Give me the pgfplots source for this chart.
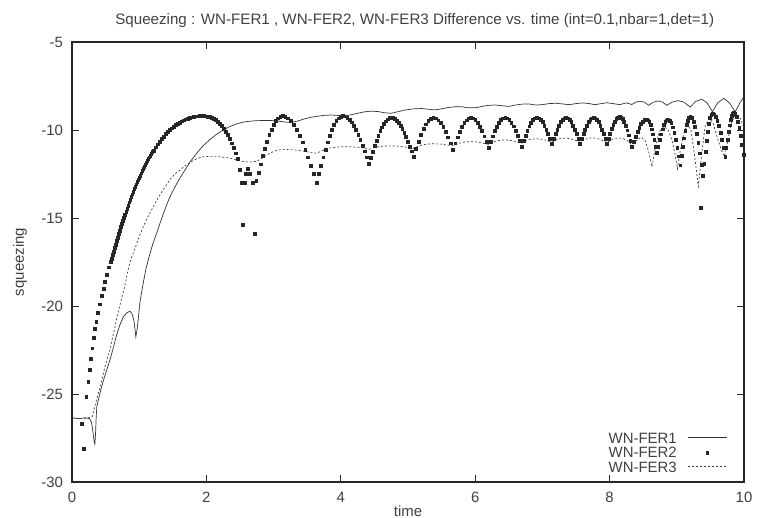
\documentclass[border=0pt]{standalone}
\usepackage{fontspec}
\setmainfont{Liberation Sans}
\usepackage{pgfplots}
\pgfplotsset{compat=1.18}
\pgfplotsset{
  linelegend/.style={legend image code/.code={\path (0bp,0bp); \draw[##1] (10bp,0bp) -- (49bp,0bp);}},
  marklegend/.style={legend image code/.code={\path (0bp,0bp) (49bp,0bp); \draw[##1] plot coordinates {(29.5bp,0bp)};}},
}
\begin{document}
\begin{tikzpicture}
\begin{axis}[
  at={(0,0)}, anchor=south west,
  width=672bp, height=440bp, scale only axis,
  xmin=0, xmax=10, ymin=-30, ymax=-5,
  xtick={0,2,4,6,8,10}, ytick={-30,-25,-20,-15,-10,-5},
  tick align=inside, major tick length=7bp,
  axis line style={line width=1.2bp, black!85},
  tick style={line width=0.8bp, black!85},
  /pgf/number format/assume math mode=true,
  ticklabel style={font=\fontsize{15}{17}\selectfont, text=black!75},
  xticklabel style={yshift=-7bp},
  yticklabel style={xshift=-5.5bp},
  every axis title shift=0pt,
  title={Squeezing : WN-FER1 , WN-FER2, WN-FER3 Difference vs. time (int=0.1,nbar=1,det=1)},
  title style={at={(axis description cs:0.51,1.048)}, anchor=center, font=\fontsize{15.2}{17}\selectfont, text=black!75},
  xlabel={time}, ylabel={squeezing},
  xlabel style={at={(axis description cs:0.5,-0.066)}, anchor=center, font=\fontsize{15}{17}\selectfont, text=black!75},
  ylabel style={at={(axis description cs:-0.0774,0.5)}, anchor=center, font=\fontsize{15}{17}\selectfont, text=black!75},
  legend style={at={(axis description cs:0.975,0.021)}, anchor=south east, draw=none, fill=none,
    font=\fontsize{15}{15.5}\selectfont, text=black!75, inner sep=0pt, row sep=3bp,
    nodes={inner sep=0.5bp, text height=10.5bp, text depth=0bp}},
  legend cell align=right, legend plot pos=right,
  clip=true,
]
\addplot[line width=0.7bp, black!80, linelegend] coordinates {
(0.00,-26.35) (0.10,-26.4) (0.20,-26.35) (0.26,-26.4) (0.29,-26.6) (0.31,-27.1) (0.33,-27.7) (0.34,-27.85)
(0.35,-27.3) (0.36,-26.3) (0.37,-25.7) (0.42,-24.9) (0.47,-24.2) (0.52,-23.6) (0.57,-23.0) (0.62,-22.3)
(0.66,-21.7) (0.71,-21.1) (0.76,-20.65) (0.81,-20.4) (0.86,-20.3) (0.89,-20.4) (0.92,-20.8) (0.94,-21.4)
(0.95,-21.75) (0.97,-21.3) (0.99,-20.6) (1.01,-19.8) (1.06,-18.7) (1.10,-17.9) (1.14,-17.3) (1.20,-16.5)
(1.26,-15.85) (1.36,-14.75) (1.44,-13.95) (1.51,-13.4) (1.58,-12.9) (1.66,-12.4) (1.76,-11.8) (1.86,-11.3)
(1.95,-10.9) (2.05,-10.55) (2.15,-10.25) (2.25,-10.0) (2.35,-9.8) (2.45,-9.65) (2.55,-9.55) (2.65,-9.5)
(2.75,-9.47) (2.85,-9.46) (2.95,-9.46) (3.05,-9.48) (3.15,-9.54) (3.25,-9.57) (3.35,-9.5) (3.45,-9.38)
(3.55,-9.28) (3.65,-9.22) (3.75,-9.17) (3.85,-9.15) (3.95,-9.17) (4.05,-9.2) (4.15,-9.14) (4.25,-9.05)
(4.35,-8.97) (4.45,-8.93) (4.55,-8.95) (4.65,-9.02) (4.75,-9.05) (4.85,-8.96) (4.95,-8.87) (5.08,-8.8)
(5.2,-8.78) (5.3,-8.82) (5.4,-8.86) (5.5,-8.8) (5.6,-8.72) (5.7,-8.68) (5.8,-8.68) (5.9,-8.74)
(6.0,-8.74) (6.1,-8.66) (6.2,-8.6) (6.3,-8.58) (6.4,-8.62) (6.5,-8.66) (6.6,-8.58) (6.7,-8.53)
(6.8,-8.52) (6.9,-8.58) (7.0,-8.56) (7.1,-8.5) (7.2,-8.48) (7.3,-8.52) (7.4,-8.56) (7.5,-8.5)
(7.6,-8.46) (7.7,-8.5) (7.78,-8.56) (7.88,-8.5) (7.96,-8.45) (8.05,-8.5) (8.15,-8.56) (8.25,-8.46)
(8.33,-8.55) (8.39,-8.42) (8.45,-8.36) (8.52,-8.42) (8.58,-8.6) (8.65,-8.42) (8.72,-8.35) (8.79,-8.42)
(8.85,-8.6) (8.93,-8.42) (9.02,-8.33) (9.11,-8.42) (9.20,-8.7) (9.28,-8.38) (9.37,-8.25) (9.45,-8.45)
(9.53,-8.96) (9.61,-8.45) (9.70,-8.2) (9.78,-8.45) (9.87,-8.96) (9.94,-8.45) (10.0,-8.1)
};
\addlegendentry{WN-FER1}
\addplot[only marks, mark=square*, mark size=1.4pt, black!85, marklegend] coordinates {
(0.14,-26.7) (0.17,-28.1) (0.21,-25.15) (0.24,-24.3) (0.26,-23.6) (0.28,-23.0) (0.30,-22.4) (0.32,-21.8)
(0.34,-21.3) (0.36,-20.9) (0.38,-20.4) (0.41,-19.9) (0.44,-19.4) (0.47,-19.0) (0.49,-18.6) (0.52,-18.2)
(0.55,-17.8) (0.58,-17.5) (0.595,-17.3) (0.61,-17.1) (0.625,-16.9) (0.64,-16.7) (0.655,-16.5) (0.67,-16.3)
(0.685,-16.1) (0.70,-15.9) (0.715,-15.7) (0.73,-15.5) (0.745,-15.33) (0.76,-15.15) (0.775,-14.98) (0.79,-14.8)
(0.805,-14.63) (0.82,-14.45) (0.835,-14.28) (0.85,-14.1) (0.865,-13.95) (0.88,-13.8) (0.895,-13.65) (0.91,-13.5)
(0.925,-13.35) (0.94,-13.2) (0.955,-13.08) (0.97,-12.95) (0.985,-12.83) (1.00,-12.7) (1.015,-12.58) (1.03,-12.45)
(1.045,-12.33) (1.06,-12.2) (1.075,-12.09) (1.09,-11.98) (1.105,-11.87) (1.12,-11.76) (1.135,-11.65) (1.15,-11.55)
(1.165,-11.45) (1.18,-11.35) (1.195,-11.25) (1.21,-11.16) (1.24,-10.98)
(1.27,-10.81) (1.30,-10.65) (1.33,-10.5) (1.36,-10.36) (1.39,-10.23) (1.42,-10.11) (1.45,-10.0) (1.48,-9.9)
(1.51,-9.81) (1.54,-9.72) (1.57,-9.64) (1.60,-9.57) (1.63,-9.5) (1.66,-9.44) (1.69,-9.39) (1.72,-9.34)
(1.75,-9.3) (1.78,-9.27) (1.81,-9.24) (1.84,-9.22) (1.87,-9.21) (1.90,-9.2) (1.93,-9.2) (1.96,-9.2)
(1.99,-9.21) (2.02,-9.23) (2.05,-9.26) (2.08,-9.3) (2.11,-9.36) (2.14,-9.43) (2.17,-9.52) (2.20,-9.63)
(2.23,-9.76) (2.26,-9.91) (2.29,-10.08) (2.32,-10.28) (2.35,-10.5) (2.38,-10.75) (2.41,-11.02) (2.44,-11.32)
(2.47,-11.65) (2.50,-12.25) (2.53,-13.0) (2.545,-15.4) (2.565,-13.0) (2.59,-12.5) (2.62,-12.2) (2.65,-12.5)
(2.69,-13.0) (2.72,-15.9) (2.74,-12.9)
(2.773,-12.42) (2.805,-11.94) (2.838,-11.48) (2.870,-11.05) (2.903,-10.65) (2.935,-10.28) (2.968,-9.97) (3.000,-9.70)
(3.033,-9.48) (3.065,-9.33) (3.098,-9.23) (3.130,-9.20) (3.173,-9.23) (3.215,-9.33) (3.258,-9.49) (3.300,-9.71)
(3.343,-9.99) (3.385,-10.31) (3.428,-10.69) (3.470,-11.10) (3.513,-11.54) (3.555,-12.02) (3.598,-12.50) (3.640,-13.00)
(3.673,-12.50) (3.705,-12.02) (3.738,-11.54) (3.770,-11.10) (3.803,-10.69) (3.835,-10.31) (3.868,-9.99) (3.900,-9.71)
(3.933,-9.49) (3.965,-9.33) (3.998,-9.23) (4.030,-9.20) (4.063,-9.22) (4.095,-9.29) (4.128,-9.41) (4.160,-9.56)
(4.193,-9.76) (4.225,-9.99) (4.258,-10.26) (4.290,-10.55) (4.323,-10.87) (4.355,-11.20) (4.388,-11.55) (4.420,-11.90)
(4.448,-11.56) (4.475,-11.23) (4.503,-10.90) (4.530,-10.60) (4.558,-10.32) (4.585,-10.06) (4.613,-9.84) (4.640,-9.65)
(4.668,-9.50) (4.695,-9.39) (4.723,-9.32) (4.750,-9.30) (4.778,-9.32) (4.805,-9.38) (4.833,-9.47) (4.860,-9.60)
(4.888,-9.76) (4.915,-9.94) (4.943,-10.16) (4.970,-10.40) (4.998,-10.66) (5.025,-10.93) (5.053,-11.21) (5.080,-11.50)
(5.117,-11.07) (5.154,-10.66) (5.191,-10.28) (5.228,-9.94) (5.264,-9.67) (5.301,-9.47) (5.338,-9.34) (5.375,-9.30)
(5.412,-9.33) (5.449,-9.44) (5.486,-9.60) (5.523,-9.83) (5.559,-10.10) (5.596,-10.41) (5.633,-10.75) (5.670,-11.10)
(5.703,-10.75) (5.736,-10.41) (5.769,-10.10) (5.803,-9.83) (5.836,-9.60) (5.869,-9.44) (5.902,-9.33) (5.935,-9.30)
(5.968,-9.33) (6.001,-9.43) (6.034,-9.59) (6.068,-9.80) (6.101,-10.06) (6.134,-10.35) (6.167,-10.67) (6.200,-11.00)
(6.231,-10.67) (6.261,-10.35) (6.292,-10.06) (6.323,-9.80) (6.353,-9.59) (6.384,-9.43) (6.414,-9.33) (6.445,-9.30)
(6.476,-9.33) (6.506,-9.43) (6.537,-9.58) (6.568,-9.78) (6.598,-10.03) (6.629,-10.32) (6.659,-10.63) (6.690,-10.95)
(6.718,-10.63) (6.746,-10.32) (6.774,-10.03) (6.803,-9.78) (6.831,-9.58) (6.859,-9.43) (6.887,-9.33) (6.915,-9.30)
(6.943,-9.33) (6.971,-9.41) (6.999,-9.55) (7.028,-9.74) (7.056,-9.97) (7.084,-10.23) (7.112,-10.51) (7.140,-10.80)
(7.166,-10.51) (7.193,-10.23) (7.219,-9.97) (7.245,-9.74) (7.271,-9.55) (7.298,-9.41) (7.324,-9.33) (7.350,-9.30)
(7.376,-9.33) (7.403,-9.41) (7.429,-9.55) (7.455,-9.74) (7.481,-9.97) (7.508,-10.23) (7.534,-10.51) (7.560,-10.80)
(7.585,-10.51) (7.610,-10.23) (7.635,-9.97) (7.660,-9.74) (7.685,-9.55) (7.710,-9.41) (7.735,-9.33) (7.760,-9.30)
(7.785,-9.33) (7.810,-9.41) (7.835,-9.55) (7.860,-9.74) (7.885,-9.97) (7.910,-10.23) (7.935,-10.51) (7.960,-10.80)
(7.983,-10.50) (8.006,-10.21) (8.029,-9.94) (8.053,-9.70) (8.076,-9.51) (8.099,-9.37) (8.122,-9.28) (8.145,-9.25)
(8.168,-9.28) (8.191,-9.38) (8.214,-9.54) (8.238,-9.75) (8.261,-10.01) (8.284,-10.30) (8.307,-10.62) (8.330,-10.95)
(8.358,-10.65) (8.385,-10.36) (8.413,-10.09) (8.440,-9.85) (8.468,-9.66) (8.495,-9.52) (8.523,-9.43) (8.550,-9.40)
(8.569,-9.44) (8.588,-9.54) (8.606,-9.72) (8.625,-9.96) (8.644,-10.24) (8.663,-10.57) (8.681,-10.93) (8.700,-11.30)
(8.721,-10.93) (8.743,-10.57) (8.764,-10.24) (8.785,-9.96) (8.806,-9.72) (8.828,-9.54) (8.849,-9.44) (8.870,-9.40)
(8.893,-9.45) (8.915,-9.60) (8.938,-9.84) (8.960,-10.16) (8.983,-10.55) (9.005,-11.00) (9.028,-11.49) (9.050,-12.00)
(9.069,-11.46) (9.088,-10.95) (9.106,-10.47) (9.125,-10.06) (9.144,-9.72) (9.163,-9.46) (9.181,-9.30) (9.200,-9.25)
(9.224,-9.31) (9.248,-9.51) (9.271,-9.82) (9.295,-10.23) (9.319,-10.74) (9.343,-11.32) (9.366,-11.95) (9.390,-12.60)
(9.36,-14.4)
(9.408,-11.91) (9.425,-11.24) (9.443,-10.63) (9.460,-10.09) (9.478,-9.65) (9.495,-9.32) (9.513,-9.12) (9.530,-9.05)
(9.554,-9.10) (9.578,-9.24) (9.601,-9.46) (9.625,-9.77) (9.649,-10.14) (9.673,-10.56) (9.696,-11.02) (9.720,-11.50)
(9.736,-11.01) (9.753,-10.54) (9.769,-10.11) (9.785,-9.73) (9.801,-9.42) (9.818,-9.19) (9.834,-9.05) (9.850,-9.00)
(9.870,-9.06) (9.890,-9.23) (9.910,-9.51) (9.930,-9.88) (9.950,-10.33) (9.970,-10.85) (9.990,-11.42)
};
\addlegendentry{WN-FER2}
\addplot[line width=0.7bp, black!75, dash pattern=on 2bp off 2bp, linelegend] coordinates {
(0.00,-26.4) (0.10,-26.4) (0.20,-26.4) (0.30,-26.3) (0.34,-25.7) (0.38,-25.1) (0.42,-24.6) (0.46,-23.95)
(0.49,-23.45) (0.53,-22.9) (0.57,-22.4) (0.60,-21.85) (0.64,-21.2) (0.67,-20.6) (0.71,-20.0) (0.75,-19.4)
(0.79,-18.8) (0.82,-18.2) (0.86,-17.55) (0.90,-17.1) (0.95,-16.6) (1.00,-16.05) (1.06,-15.5) (1.12,-15.0)
(1.19,-14.5) (1.26,-14.0) (1.33,-13.55) (1.40,-13.15) (1.46,-12.8) (1.53,-12.5) (1.60,-12.3) (1.66,-12.1)
(1.73,-11.9) (1.80,-11.75) (1.86,-11.62) (1.95,-11.52) (2.05,-11.5) (2.15,-11.5) (2.25,-11.55) (2.35,-11.6)
(2.45,-11.7) (2.55,-11.8) (2.65,-11.82) (2.75,-11.78) (2.85,-11.55) (2.95,-11.3) (3.05,-11.15) (3.14,-11.1)
(3.25,-11.12) (3.35,-11.15) (3.45,-11.2) (3.55,-11.28) (3.64,-11.32) (3.74,-11.15) (3.84,-11.02) (3.95,-10.97)
(4.04,-10.95) (4.14,-10.95) (4.25,-10.98) (4.33,-11.02) (4.42,-11.1) (4.52,-10.98) (4.62,-10.92) (4.75,-10.9)
(4.88,-10.93) (4.98,-10.98) (5.08,-11.05) (5.18,-10.88) (5.28,-10.8) (5.38,-10.78) (5.48,-10.8) (5.58,-10.85)
(5.67,-10.9) (5.76,-10.75) (5.85,-10.68) (5.94,-10.66) (6.03,-10.68) (6.12,-10.75) (6.20,-10.82) (6.29,-10.65)
(6.37,-10.58) (6.45,-10.56) (6.53,-10.6) (6.61,-10.66) (6.69,-10.75) (6.77,-10.58) (6.84,-10.52) (6.92,-10.5)
(7.00,-10.53) (7.07,-10.6) (7.14,-10.7) (7.21,-10.55) (7.28,-10.48) (7.35,-10.46) (7.42,-10.5) (7.49,-10.58)
(7.56,-10.7) (7.63,-10.53) (7.70,-10.46) (7.76,-10.45) (7.83,-10.5) (7.90,-10.6) (7.96,-10.72) (8.02,-10.56)
(8.08,-10.47) (8.15,-10.45) (8.21,-10.5) (8.27,-10.62) (8.33,-10.85) (8.40,-10.6) (8.47,-10.4) (8.53,-10.6)
(8.58,-11.2) (8.63,-12.1) (8.68,-11.0) (8.74,-10.1) (8.81,-9.8) (8.87,-10.0) (8.93,-10.6) (8.97,-11.3)
(9.01,-12.2) (9.05,-11.2) (9.11,-10.1) (9.16,-9.7) (9.21,-10.0) (9.26,-11.3) (9.32,-13.2) (9.37,-11.4)
(9.42,-9.8) (9.48,-9.35) (9.54,-9.6) (9.60,-10.4) (9.66,-11.1) (9.71,-11.5) (9.76,-10.6) (9.81,-9.6)
(9.87,-9.15) (9.93,-9.2) (9.98,-9.7) (10.00,-9.9)
};
\addlegendentry{WN-FER3}
\end{axis}
\pgfresetboundingbox
\path[use as bounding box] (-72bp,-36bp) rectangle (685bp,482bp);
\end{tikzpicture}
\end{document}
